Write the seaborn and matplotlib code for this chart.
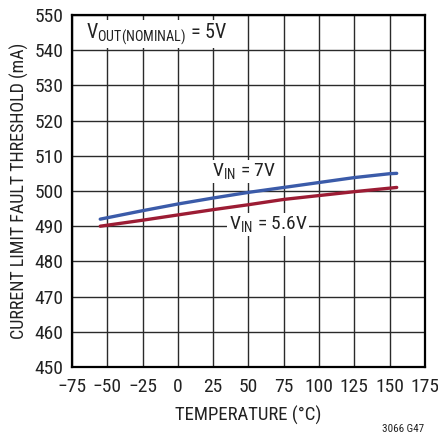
import numpy as np
import pandas as pd
import seaborn as sns
import matplotlib.pyplot as plt
from matplotlib import font_manager

temp = [-55, -25, 0, 25, 50, 75, 100, 125, 150, 155]
vin_7 = [492.0, 494.4, 496.3, 498.0, 499.6, 501.0, 502.4, 503.8, 504.9, 505.0]
vin_56 = [490.0, 491.7, 493.2, 494.7, 496.1, 497.6, 498.7, 499.8, 500.8, 501.0]
series = ['VIN = 7V', 'VIN = 5.6V']
colors = ['#3b5ba9', '#9c1c34']

df = pd.DataFrame({
    'temp': temp * 2,
    'thr': vin_7 + vin_56,
    'series': [series[0]] * len(temp) + [series[1]] * len(temp),
})

# narrow font, falls back if missing
installed = {f.name for f in font_manager.fontManager.ttflist}
main = next((n for n in ['Roboto Condensed', 'Archivo Narrow', 'Liberation Sans']
             if n in installed), 'DejaVu Sans')

sns.set_style('white')
plt.rcParams['font.family'] = [main, 'DejaVu Sans']
plt.rcParams['mathtext.fontset'] = 'custom'
plt.rcParams['mathtext.rm'] = main

fig = plt.figure(figsize=(4.39, 4.36), dpi=100)
ax = fig.add_axes([0.164, 0.158, 0.804, 0.808])

sns.lineplot(data=df, x='temp', y='thr', hue='series', palette=colors,
             linewidth=2.4, legend=False, ax=ax, zorder=3)

ax.set_xlim(-75, 175)
ax.set_ylim(450, 550)
ax.set_xticks(np.arange(-75, 176, 25))
ax.set_yticks(np.arange(450, 551, 10))
ax.grid(True, color='#2a2a2a', linewidth=1.0)
for s in ax.spines.values():
    s.set_color('black')
    s.set_linewidth(1.6)
ax.tick_params(labelsize=14, length=0, colors='#222222')
ax.tick_params(axis='x', pad=8)
ax.tick_params(axis='y', pad=6)
ax.set_xlabel('TEMPERATURE (°C)', fontsize=13.5, color='#222222', labelpad=7)
ax.set_ylabel('CURRENT LIMIT FAULT THRESHOLD (mA)', fontsize=13, color='#222222')

box = dict(facecolor='white', edgecolor='none', pad=1)
ax.text(46.5, 505.4, r'V$_{\mathregular{IN}}$ = 7V', fontsize=14, ha='center',
        va='center', bbox=box, zorder=4, color='#222222')
ax.text(64, 490.5, r'V$_{\mathregular{IN}}$ = 5.6V', fontsize=14, ha='center',
        va='center', bbox=box, zorder=4, color='#222222')
ax.text(-65, 544.5, r'V$_{\mathregular{OUT(NOMINAL)}}$ = 5V', fontsize=14.5,
        ha='left', va='center', bbox=box, zorder=4, color='#222222')

fig.text(0.967, 0.016, '3066 G47', fontsize=8, ha='right', va='center', color='#222222')

fig.savefig('out.png', dpi=100)
